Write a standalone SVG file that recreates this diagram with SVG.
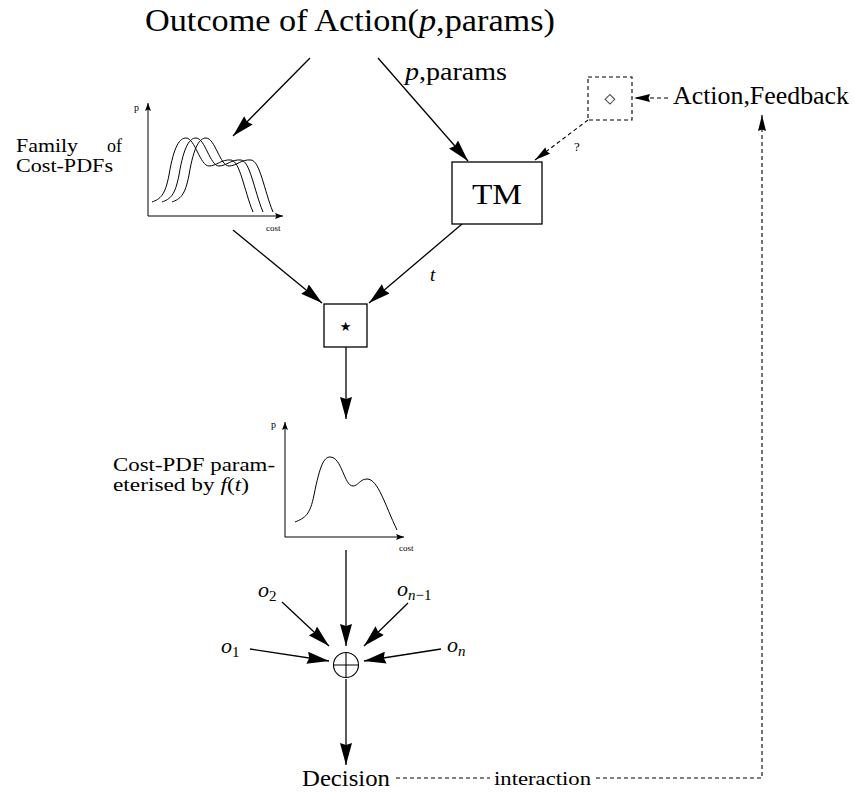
<svg xmlns="http://www.w3.org/2000/svg" width="854" height="792" viewBox="0 0 854 792">
  <style>
    .txt { font-family: "Liberation Serif", "DejaVu Serif", serif; fill: #000; }
    .it { font-style: italic; }
    .sym { font-family: "DejaVu Sans", sans-serif; fill: #000; }
    .edge { fill: none; stroke: #000; stroke-width: 1.3; }
    .dash { fill: none; stroke: #000; stroke-width: 1.1; stroke-dasharray: 4 3; }
    .box { fill: #fff; stroke: #000; stroke-width: 1.3; }
    .dbox { fill: #fff; stroke: #000; stroke-width: 1.1; stroke-dasharray: 4 3; }
    .axis { fill: none; stroke: #000; stroke-width: 1; }
    .curve { fill: none; stroke: #000; stroke-width: 1; }
  </style>
  <defs>
    <marker id="head" markerUnits="userSpaceOnUse" markerWidth="22" markerHeight="12" refX="22" refY="6" orient="auto">
      <path d="M0,0 L22,6 L0,12 L2,6 z" fill="#000"/>
    </marker>
    <marker id="headSmall" markerUnits="userSpaceOnUse" markerWidth="16" markerHeight="8" refX="16" refY="4" orient="auto">
      <path d="M0,0 L16,4 L0,8 L1.5,4 z" fill="#000"/>
    </marker>
    <marker id="axisHead" markerUnits="userSpaceOnUse" markerWidth="8" markerHeight="6" refX="8" refY="3" orient="auto">
      <path d="M0,0 L8,3 L0,6 L1.5,3 z" fill="#000"/>
    </marker>
    <path id="pdfShape" d="M152,202 C160,199 165,196 169,175 C174,145 180,138 186,138 C195,138 200,166 209,166 C216,166 222,159 231,160 C240,161 244,190 253,212"/>
  </defs>

  <!-- title -->
  <g id="title">
    <text class="txt" x="145" y="31" font-size="31" textLength="410" lengthAdjust="spacingAndGlyphs">Outcome of Action(<tspan class="it">p</tspan>,params)</text>
  </g>

  <!-- connectors -->
  <g id="connectors">
    <path class="edge" d="M310,58 L233,136" marker-end="url(#head)"/>
    <path class="edge" d="M378,58 L468,161" marker-end="url(#head)"/>
    <path class="edge" d="M233,230 L322,303" marker-end="url(#head)"/>
    <path class="edge" d="M462,224 L369,303" marker-end="url(#head)"/>
    <path class="edge" d="M346,347 L346,419" marker-end="url(#head)"/>
    <path class="edge" d="M346,550 L346,646" marker-end="url(#head)"/>
    <path class="edge" d="M250,649 L329,661" marker-end="url(#head)"/>
    <path class="edge" d="M282,602 L329,646" marker-end="url(#head)"/>
    <path class="edge" d="M408,603 L364,646" marker-end="url(#head)"/>
    <path class="edge" d="M441,649 L364,661" marker-end="url(#head)"/>
    <path class="edge" d="M346,679 L346,765" marker-end="url(#head)"/>
    <path class="dash" d="M668,98 L634,98" marker-end="url(#headSmall)"/>
    <path class="dash" d="M588,120 L535,160" marker-end="url(#headSmall)"/>
    <path class="dash" d="M396,778 H490"/>
    <path class="dash" d="M596,778 H762 V115" marker-end="url(#headSmall)"/>
  </g>

  <!-- edge labels -->
  <g id="edge-labels">
    <text class="txt" x="405" y="80" font-size="25" textLength="102" lengthAdjust="spacingAndGlyphs"><tspan class="it">p</tspan>,params</text>
    <text class="txt" x="574" y="151" font-size="13">?</text>
    <text class="txt it" x="430" y="281" font-size="19">t</text>
    <text class="txt" x="494" y="785" font-size="19" textLength="97" lengthAdjust="spacingAndGlyphs">interaction</text>
  </g>

  <!-- family of cost pdfs -->
  <g id="family-pdfs">
    <text class="txt" x="16" y="152" font-size="18" textLength="62" lengthAdjust="spacingAndGlyphs">Family</text>
    <text class="txt" x="122" y="152" font-size="18" text-anchor="end">of</text>
    <text class="txt" x="16" y="172" font-size="18" textLength="97" lengthAdjust="spacingAndGlyphs">Cost-PDFs</text>
    <path class="axis" d="M148,216 V103" marker-end="url(#axisHead)"/>
    <path class="axis" d="M148,216 H283" marker-end="url(#axisHead)"/>
    <text class="txt" x="134" y="111" font-size="10">p</text>
    <text class="txt" x="266" y="231" font-size="9">cost</text>
    <use href="#pdfShape" class="curve"/>
    <use href="#pdfShape" class="curve" transform="translate(10,0)"/>
    <use href="#pdfShape" class="curve" transform="translate(20,0)" stroke-width="1.6"/>
  </g>

  <!-- transfer model -->
  <g id="tm">
    <rect class="box" x="452" y="162" width="90" height="62"/>
    <text class="txt" x="472" y="204" font-size="30" textLength="50" lengthAdjust="spacingAndGlyphs">TM</text>
  </g>

  <!-- feedback selector -->
  <g id="selector">
    <rect class="dbox" x="588" y="77" width="44" height="43"/>
    <text class="sym" x="610" y="103" font-size="14" text-anchor="middle">◇</text>
  </g>

  <g id="action-feedback">
    <text class="txt" x="673" y="104" font-size="25" textLength="176" lengthAdjust="spacingAndGlyphs">Action,Feedback</text>
  </g>

  <!-- convolution -->
  <g id="star">
    <rect class="box" x="324" y="304" width="43" height="43"/>
    <text class="sym" x="345.5" y="331" font-size="13" text-anchor="middle">★</text>
  </g>

  <!-- parameterised cost pdf -->
  <g id="cost-pdf">
    <text class="txt" x="113" y="471" font-size="19" textLength="162" lengthAdjust="spacingAndGlyphs">Cost-PDF param-</text>
    <text class="txt" x="113" y="491" font-size="19" textLength="136" lengthAdjust="spacingAndGlyphs">eterised by <tspan class="it">f</tspan>(<tspan class="it">t</tspan>)</text>
    <path class="axis" d="M285,537 V422" marker-end="url(#axisHead)"/>
    <path class="axis" d="M285,537 H404" marker-end="url(#axisHead)"/>
    <text class="txt" x="271" y="428" font-size="10">p</text>
    <text class="txt" x="399" y="551" font-size="9">cost</text>
    <path class="curve" d="M295,522 C305,518 310,515 314,495 C320,465 324,457 330,457 C342,457 344,486 353,486 C358,486 360,479 367,479 C378,479 385,505 397,530"/>
  </g>

  <!-- combination -->
  <g id="oplus">
    <circle cx="346" cy="665" r="12.5" fill="#fff" stroke="#000" stroke-width="1.1"/>
    <path d="M333.5,665 H358.5 M346,652.5 V677.5" stroke="#000" stroke-width="1.1"/>
  </g>

  <g id="outcomes">
    <text class="txt it" x="221" y="653" font-size="22">o<tspan font-size="15" dy="4" font-style="normal">1</tspan></text>
    <text class="txt it" x="258" y="597" font-size="22">o<tspan font-size="15" dy="4" font-style="normal">2</tspan></text>
    <text class="txt it" x="397" y="596" font-size="22">o<tspan font-size="15" dy="4">n</tspan><tspan font-size="15" font-style="normal">−1</tspan></text>
    <text class="txt it" x="447" y="652" font-size="22">o<tspan font-size="15" dy="4">n</tspan></text>
  </g>

  <g id="decision">
    <text class="txt" x="302" y="786" font-size="23" textLength="88" lengthAdjust="spacingAndGlyphs">Decision</text>
  </g>
</svg>
